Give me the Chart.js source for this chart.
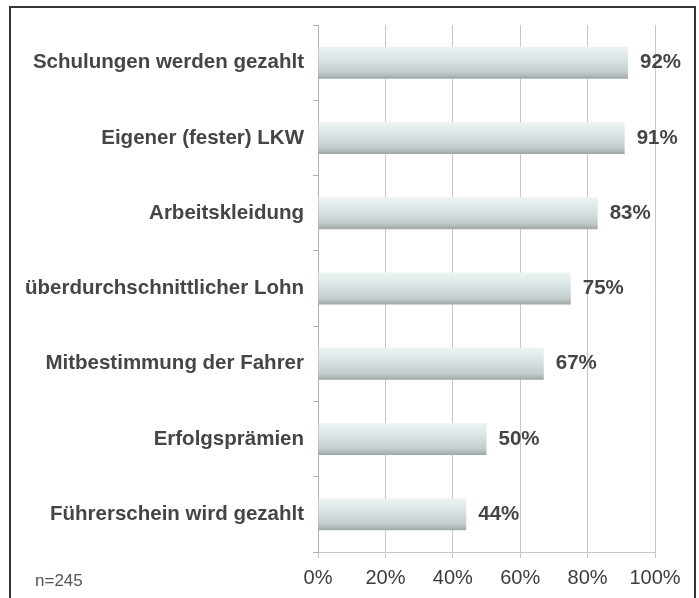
<!DOCTYPE html>
<html>
<head>
<meta charset="utf-8">
<script src="https://cdn.jsdelivr.net/npm/chart.js@4"></script>
<style>
  body { margin: 0; background: #fff; }
  #wrap { position: relative; width: 699px; height: 598px; overflow: hidden; }
  #frame { position: absolute; left: 9px; top: 6px; width: 683px; height: 600px; border: 2px solid #333; border-bottom: none; }
  #note { position: absolute; left: 35px; top: 571px; font: 17px "Liberation Sans", Arial, sans-serif; color: #555; }
  canvas { position: absolute; left: 0; top: 0; }
</style>
</head>
<body>
<div id="wrap">
  <div id="frame"></div>
  <canvas id="c" width="699" height="598"></canvas>
  <div id="note">n=245</div>
</div>
<script>
// data
var labels = [
  'Schulungen werden gezahlt',
  'Eigener (fester) LKW',
  'Arbeitskleidung',
  'überdurchschnittlicher Lohn',
  'Mitbestimmung der Fahrer',
  'Erfolgsprämien',
  'Führerschein wird gezahlt'
];
var values = [92, 91, 83, 75, 67, 50, 44];
var xTicks = [0, 20, 40, 60, 80, 100];

var font = '"Liberation Sans", Arial, sans-serif';
var barH = 32;

// gradient for each bar, top light to darker bottom
function barFill(ctx) {
  var chart = ctx.chart;
  var y = chart.scales.y;
  if (!chart.chartArea || !y || ctx.dataIndex === undefined) return '#d3dddd';
  var mid = y.getPixelForValue(ctx.dataIndex);
  var top = mid - barH / 2;
  var g = chart.ctx.createLinearGradient(0, top, 0, top + barH);
  g.addColorStop(0, '#eef3f3');
  g.addColorStop(0.4, '#d9e4e4');
  g.addColorStop(0.8, '#c4cdcd');
  g.addColorStop(1, '#9fa6a6');
  return g;
}

// draws the percentages after the bars
var valueLabels = {
  id: 'valueLabels',
  afterDatasetsDraw: function(chart) {
    var c = chart.ctx;
    var meta = chart.getDatasetMeta(0);
    c.save();
    c.font = 'bold 20.5px ' + font;
    c.fillStyle = '#454545';
    c.textBaseline = 'middle';
    c.textAlign = 'left';
    meta.data.forEach(function(bar, i) {
      c.fillText(values[i] + '%', bar.x + 12, bar.y);
    });
    c.restore();
  }
};

new Chart(document.getElementById('c'), {
  type: 'bar',
  data: {
    labels: labels,
    datasets: [{
      data: values,
      backgroundColor: barFill,
      borderWidth: 0,
      barPercentage: 0.425,
      categoryPercentage: 1
    }]
  },
  options: {
    indexAxis: 'y',
    responsive: false,
    animation: false,
    layout: { padding: { top: 25, right: 44, left: 0, bottom: 0 } },
    plugins: { legend: { display: false }, tooltip: { enabled: false } },
    scales: {
      x: {
        min: 0,
        max: 100,
        afterBuildTicks: function(s) { s.ticks = xTicks.map(function(v) { return { value: v }; }); },
        afterFit: function(s) { s.height = 46; },
        grid: { color: '#c8c8c8', tickLength: 6 },
        border: { color: '#c8c8c8' },
        ticks: {
          padding: 8,
          color: '#3c3c3c',
          font: { family: font, size: 20 },
          callback: function(v) { return v + '%'; }
        }
      },
      y: {
        afterFit: function(s) { s.width = 318; },
        grid: { drawOnChartArea: false, color: '#b0b0b0', tickLength: 5 },
        border: { color: '#b0b0b0' },
        ticks: {
          padding: 9,
          color: '#454545',
          font: { family: font, size: 20.5, weight: 'bold' }
        }
      }
    }
  },
  plugins: [valueLabels]
});
</script>
</body>
</html>
